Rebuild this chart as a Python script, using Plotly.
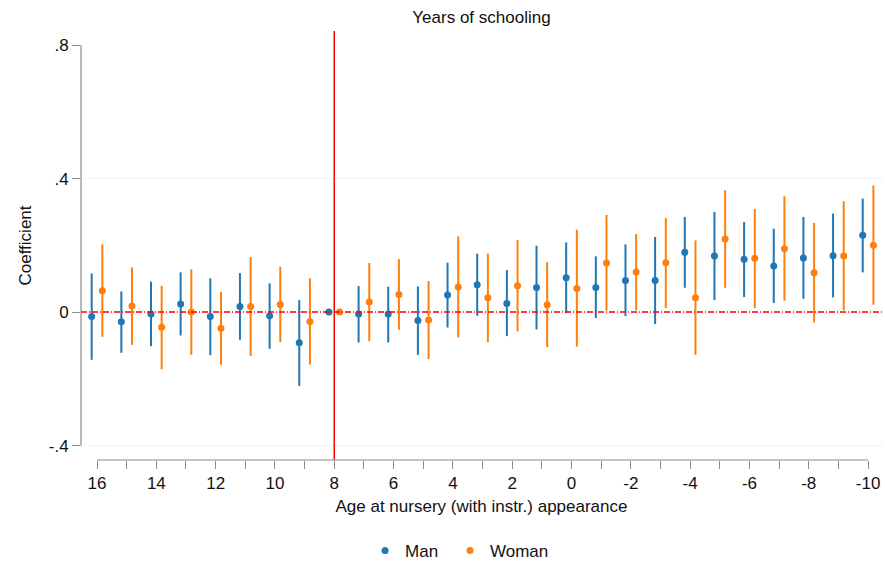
import plotly.graph_objects as go

# Event-study coefficients by age at nursery appearance
ages = [16, 15, 14, 13, 12, 11, 10, 9, 8, 7, 6, 5, 4, 3, 2, 1, 0,
        -1, -2, -3, -4, -5, -6, -7, -8, -9, -10]

man_est = [-0.013, -0.029, -0.006, 0.024, -0.013, 0.017, -0.011, -0.092, 0.0,
           -0.006, -0.006, -0.025, 0.051, 0.082, 0.026, 0.074, 0.103, 0.074,
           0.095, 0.095, 0.179, 0.168, 0.158, 0.138, 0.162, 0.169, 0.230]
man_lo = [-0.143, -0.122, -0.102, -0.070, -0.129, -0.083, -0.110, -0.221, 0.0,
          -0.091, -0.091, -0.128, -0.046, -0.011, -0.072, -0.052, -0.003, -0.018,
          -0.012, -0.036, 0.073, 0.036, 0.045, 0.027, 0.040, 0.044, 0.119]
man_hi = [0.116, 0.062, 0.091, 0.119, 0.101, 0.117, 0.086, 0.036, 0.0,
          0.078, 0.076, 0.077, 0.148, 0.175, 0.126, 0.199, 0.209, 0.167,
          0.203, 0.225, 0.285, 0.300, 0.270, 0.250, 0.285, 0.295, 0.340]

woman_est = [0.064, 0.018, -0.045, 0.0, -0.048, 0.017, 0.023, -0.028, 0.0,
             0.030, 0.053, -0.024, 0.075, 0.043, 0.079, 0.022, 0.071, 0.147,
             0.120, 0.148, 0.043, 0.219, 0.161, 0.190, 0.118, 0.168, 0.200]
woman_lo = [-0.074, -0.098, -0.171, -0.128, -0.158, -0.131, -0.090, -0.157, 0.0,
            -0.087, -0.053, -0.141, -0.076, -0.090, -0.058, -0.105, -0.103, 0.004,
            0.005, 0.012, -0.128, 0.073, 0.012, 0.034, -0.031, 0.005, 0.022]
woman_hi = [0.203, 0.134, 0.079, 0.128, 0.060, 0.165, 0.136, 0.101, 0.0,
            0.147, 0.159, 0.093, 0.227, 0.175, 0.216, 0.150, 0.247, 0.291,
            0.234, 0.282, 0.215, 0.365, 0.309, 0.347, 0.267, 0.332, 0.379]

y_ticks = [0.8, 0.4, 0.0, -0.4]
y_labels = [".8", ".4", "0", "-.4"]
grid_levels = [0.4, -0.4]
x_ticks = list(range(16, -11, -2))
reference_age = 8

BLUE = "#1f77b4"
ORANGE = "#ff7f0e"
AXIS_GREY = "#8c8c8c"
FONT = "Arial, Liberation Sans, sans-serif"
FS = 17
shift = 0.18  # horizontal dodge between the two groups

fig = go.Figure()

for name, est, lo, hi, color, dx, leg in [
    ("Man", man_est, man_lo, man_hi, BLUE, shift, "legend"),
    ("Woman", woman_est, woman_lo, woman_hi, ORANGE, -shift, "legend2"),
]:
    fig.add_trace(go.Scatter(
        x=[a + dx for a in ages],
        y=est,
        mode="markers",
        name=name,
        legend=leg,
        marker=dict(color=color, size=7),
        error_y=dict(
            type="data", symmetric=False,
            array=[h - e for h, e in zip(hi, est)],
            arrayminus=[e - l for e, l in zip(est, lo)],
            color=color, thickness=2, width=0,
        ),
    ))

# dotted horizontal grid
for g in grid_levels:
    fig.add_shape(type="line", xref="paper", x0=0, x1=1, yref="y", y0=g, y1=g,
                  line=dict(color="#cfcfcf", width=1, dash="1px,3px"), layer="below")

# zero reference line
fig.add_shape(type="line", xref="paper", x0=0, x1=1, yref="y", y0=0, y1=0,
              line=dict(color="red", width=1.5, dash="6px,2px,1px,2px"))

# reference age marker
fig.add_shape(type="line", xref="x", x0=reference_age, x1=reference_age,
              yref="paper", y0=0, y1=1, line=dict(color="red", width=1.5))

# axis lines spanning only the labelled ranges
fig.add_shape(type="line", xref="paper", x0=0, x1=0, yref="y",
              y0=min(y_ticks), y1=max(y_ticks),
              line=dict(color=AXIS_GREY, width=1.2))
fig.add_shape(type="line", xref="x", x0=max(ages), x1=min(ages), yref="paper",
              y0=0, y1=0, line=dict(color=AXIS_GREY, width=1.2))

legend_style = dict(orientation="h", xref="paper", xanchor="left",
                    y=1 - 551 / 567, yref="container", yanchor="middle",
                    font=dict(size=FS), itemclick=False)

fig.update_layout(
    width=885, height=567,
    margin=dict(l=81, r=3, t=31, b=107),
    paper_bgcolor="white", plot_bgcolor="white",
    font=dict(family=FONT, size=FS, color="#111"),
    title=dict(text="Years of schooling", x=0.5, xref="paper", xanchor="center",
               y=1 - 17 / 567, yref="container", yanchor="middle",
               font=dict(size=FS, color="#111")),
    showlegend=True,
    legend=dict(x=0.3546, **legend_style),
    legend2=dict(x=0.4607, **legend_style),
    xaxis=dict(
        range=[16.54, -10.47], showgrid=False, zeroline=False, showline=False,
        tickmode="array", tickvals=x_ticks, ticktext=[str(v) for v in x_ticks],
        ticks="outside", ticklen=8, tickcolor=AXIS_GREY, tickwidth=1.2,
        tickfont=dict(size=FS),
        minor=dict(dtick=1, tick0=0, ticks="outside", ticklen=8,
                   tickcolor=AXIS_GREY, tickwidth=1.2, showgrid=False),
        title=dict(text="Age at nursery (with instr.) appearance", standoff=7,
                   font=dict(size=FS)),
    ),
    yaxis=dict(
        range=[-0.443, 0.842], showgrid=False, zeroline=False, showline=False,
        tickmode="array", tickvals=y_ticks, ticktext=y_labels,
        ticks="outside", ticklen=8, tickcolor=AXIS_GREY, tickwidth=1.2,
        tickfont=dict(size=FS),
        title=dict(text="Coefficient", standoff=12, font=dict(size=FS)),
    ),
)

fig.write_html("out.html")
